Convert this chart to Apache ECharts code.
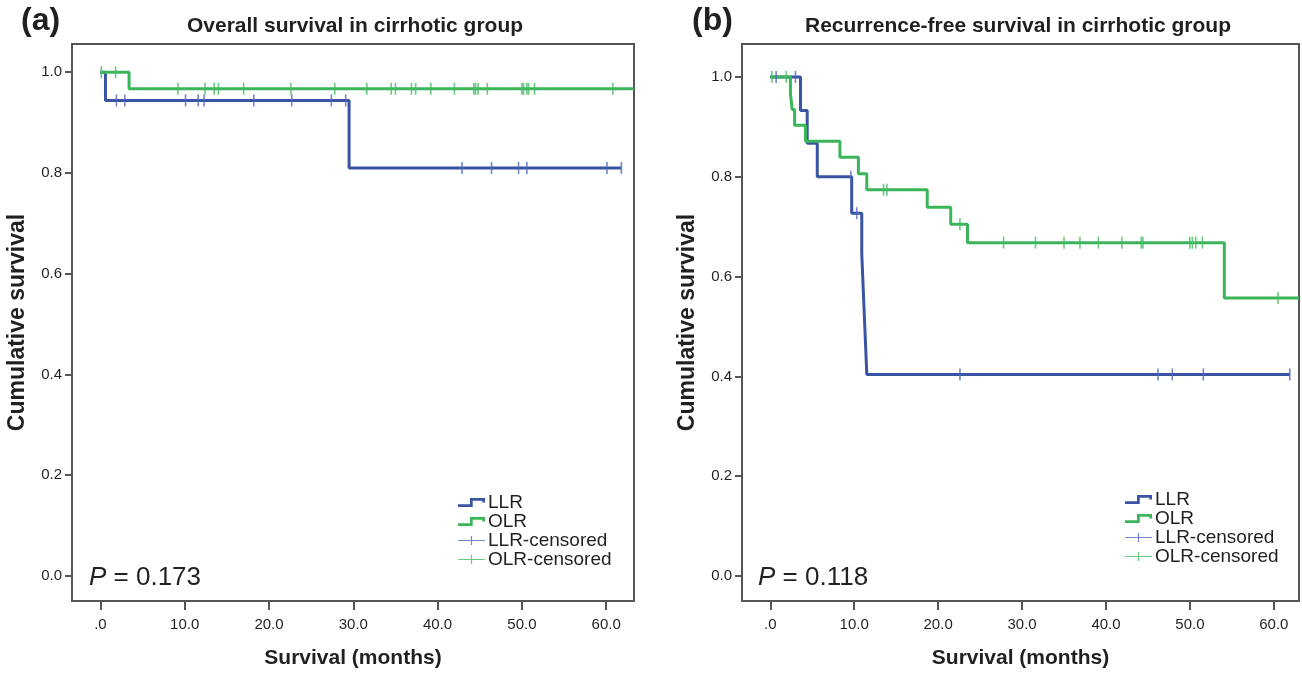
<!DOCTYPE html>
<html>
<head>
<meta charset="utf-8">
<script src="https://cdn.jsdelivr.net/npm/echarts@6/dist/echarts.min.js"></script>
<style>
  html, body { margin: 0; padding: 0; background: #fff; }
  #chart { width: 1302px; height: 674px; }
</style>
</head>
<body>
<div id="chart"></div>
<script>
// (a) overall survival, cirrhotic group
const osLlrTimes = [0, 0.6, 29.5, 61.8]
const osLlrSurv = [1.0, 0.944, 0.810, 0.810]
const osLlrCensor = [1.9, 2.9, 10.1, 11.6, 12.3, 18.2, 22.7, 27.4, 29.1, 42.9, 46.4, 49.6, 50.6, 60.1, 61.8]
const osOlrTimes = [0, 3.4, 63.3]
const osOlrSurv = [1.0, 0.967, 0.967]
const osOlrCensor = [0.1, 1.8, 9.2, 12.4, 13.5, 14.0, 17.0, 22.6, 27.8, 31.6, 34.5, 35.0, 36.9, 37.4, 39.2, 42.0, 44.3, 44.5, 44.8, 45.9, 50.0, 50.2, 50.6, 50.8, 51.5, 60.8]

// (b) recurrence-free survival, cirrhotic group
const rfsLlrTimes = [0, 3.6, 4.4, 5.6, 9.7, 10.9, 11.1, 11.3, 11.5, 61.9]
const rfsLlrSurv = [1.0, 0.933, 0.867, 0.800, 0.727, 0.646, 0.565, 0.485, 0.404, 0.404]
const rfsLlrCensor = [0.7, 3.0, 9.6, 10.3, 22.6, 46.2, 47.9, 51.6, 61.9]
const rfsOlrTimes = [0, 2.4, 2.6, 2.9, 4.2, 8.3, 10.5, 11.5, 18.7, 21.5, 23.5, 54.1, 63.0]
const rfsOlrSurv = [1.0, 0.968, 0.935, 0.903, 0.871, 0.839, 0.806, 0.774, 0.739, 0.705, 0.668, 0.557, 0.557]
const rfsOlrCensor = [0.2, 1.9, 13.5, 13.9, 22.6, 27.8, 31.6, 35.0, 36.9, 39.1, 41.9, 44.2, 44.4, 50.0, 50.3, 50.7, 51.5, 60.5]

const xTicks = [0, 10, 20, 30, 40, 50, 60]
const yTicks = [0, 0.2, 0.4, 0.6, 0.8, 1.0]
const panelTitles = ['Overall survival in cirrhotic group', 'Recurrence-free survival in cirrhotic group']
const pValues = ['0.173', '0.118']
const groupNames = ['LLR', 'OLR', 'LLR-censored', 'OLR-censored']

const FONT = '"Liberation Sans", Arial, sans-serif'
const TXT = '#231f20'
const BLUE = '#3a54a4'
const GREEN = '#3bb55a'
const BLUE_C = '#5068bd'
const GREEN_C = '#45bb63'

const STEP_ICON = 'path://M0,6.3H12V0H27V4.5H24.3V2.7H14.7V9H0Z'
const CROSS_ICON = 'path://M0,4H12.9V0H14.1V4H27V5H14.1V9H12.9V5H0Z'

function toPairs(times, surv) {
  return times.map((t, i) => [t, surv[i]])
}

// survival value at a censoring time
function censorPairs(times, surv, cens) {
  return cens.map(c => {
    let s = surv[0]
    for (let i = 0; i < times.length; i++) {
      if (times[i] <= c) s = surv[i]
    }
    return [c, s]
  })
}

function makeXAxis(idx, min, max) {
  return {
    type: 'value',
    gridIndex: idx,
    min: min,
    max: max,
    name: 'Survival (months)',
    nameLocation: 'middle',
    nameGap: 47,
    nameTextStyle: { fontFamily: FONT, fontWeight: 'bold', fontSize: 21, color: TXT },
    axisLine: { show: false, onZero: false },
    splitLine: { show: false },
    axisTick: { show: true, length: 9, customValues: xTicks, lineStyle: { color: '#555', width: 2 } },
    axisLabel: {
      customValues: xTicks,
      margin: 16,
      fontFamily: FONT,
      fontSize: 15,
      color: TXT,
      formatter: v => (v === 0 ? '.0' : v.toFixed(1))
    }
  }
}

function makeYAxis(idx, min, max) {
  return {
    type: 'value',
    gridIndex: idx,
    min: min,
    max: max,
    name: 'Cumulative survival',
    nameLocation: 'middle',
    nameRotate: 90,
    nameGap: 43,
    nameTextStyle: { fontFamily: FONT, fontWeight: 'bold', fontSize: 23, color: TXT },
    axisLine: { show: false, onZero: false },
    splitLine: { show: false },
    axisTick: { show: true, length: 7, customValues: yTicks, lineStyle: { color: '#555', width: 2 } },
    axisLabel: {
      customValues: yTicks,
      margin: 10,
      fontFamily: FONT,
      fontSize: 15,
      color: TXT,
      formatter: v => v.toFixed(1)
    }
  }
}

function lineSeries(name, idx, data, color) {
  return {
    name: name,
    type: 'line',
    xAxisIndex: idx,
    yAxisIndex: idx,
    step: 'end',
    symbol: 'none',
    data: data,
    itemStyle: { color: color },
    lineStyle: { color: color, width: 3 },
    z: 3,
    silent: true
  }
}

function censorSeries(name, idx, data, color) {
  return {
    name: name,
    type: 'scatter',
    xAxisIndex: idx,
    yAxisIndex: idx,
    symbol: 'rect',
    symbolSize: [1.6, 12],
    data: data,
    itemStyle: { color: color },
    z: 4,
    silent: true
  }
}

function makeLegend(left, top, lineH) {
  return {
    orient: 'vertical',
    left: left,
    top: top,
    itemWidth: 27,
    itemHeight: 9,
    itemGap: 0,
    selectedMode: false,
    textStyle: { fontFamily: FONT, fontSize: 19, color: TXT, lineHeight: lineH, padding: [0, 0, 0, -2] },
    data: [
      { name: groupNames[0], icon: STEP_ICON },
      { name: groupNames[1], icon: STEP_ICON },
      { name: groupNames[2], icon: CROSS_ICON },
      { name: groupNames[3], icon: CROSS_ICON }
    ]
  }
}

function textEl(x, y, text, font, align) {
  return {
    type: 'text',
    x: x,
    y: y,
    style: {
      text: text,
      font: font,
      fill: TXT,
      textAlign: align || 'left',
      textVerticalAlign: 'middle'
    }
  }
}

function pLabel(x, y, val) {
  return {
    type: 'text',
    x: x,
    y: y,
    style: {
      text: '{i|P} = ' + val,
      fontFamily: FONT,
      fontSize: 26,
      fill: TXT,
      textVerticalAlign: 'middle',
      rich: { i: { fontStyle: 'italic', fontFamily: FONT, fontSize: 26, fill: TXT } }
    }
  }
}

const chart = echarts.init(document.getElementById('chart'))

const option = {
  backgroundColor: '#fff',
  animation: false,
  grid: [
    { left: 72, top: 44, width: 562, height: 567, show: true, borderColor: '#555', borderWidth: 2, backgroundColor: 'transparent' },
    { left: 742, top: 44, width: 557, height: 567, show: true, borderColor: '#555', borderWidth: 2, backgroundColor: 'transparent' }
  ],
  xAxis: [makeXAxis(0, -3.37, 63.3), makeXAxis(1, -3.37, 63.0)],
  yAxis: [makeYAxis(0, -0.05, 1.056), makeYAxis(1, -0.05, 1.066)],
  legend: [makeLegend(453, 488, 18.5), makeLegend(1120, 485, 18)],
  series: [
    lineSeries('LLR', 0, toPairs(osLlrTimes, osLlrSurv), BLUE),
    lineSeries('OLR', 0, toPairs(osOlrTimes, osOlrSurv), GREEN),
    censorSeries('LLR-censored', 0, censorPairs(osLlrTimes, osLlrSurv, osLlrCensor), BLUE_C),
    censorSeries('OLR-censored', 0, censorPairs(osOlrTimes, osOlrSurv, osOlrCensor), GREEN_C),
    lineSeries('LLR', 1, toPairs(rfsLlrTimes, rfsLlrSurv), BLUE),
    lineSeries('OLR', 1, toPairs(rfsOlrTimes, rfsOlrSurv), GREEN),
    censorSeries('LLR-censored', 1, censorPairs(rfsLlrTimes, rfsLlrSurv, rfsLlrCensor), BLUE_C),
    censorSeries('OLR-censored', 1, censorPairs(rfsOlrTimes, rfsOlrSurv, rfsOlrCensor), GREEN_C)
  ],
  graphic: [
    textEl(21, 21, '(a)', 'bold 32px ' + FONT),
    textEl(692, 21, '(b)', 'bold 32px ' + FONT),
    textEl(355, 26, panelTitles[0], 'bold 21px ' + FONT, 'center'),
    textEl(1018, 26, panelTitles[1], 'bold 21px ' + FONT, 'center'),
    pLabel(89, 578, pValues[0]),
    pLabel(758, 578, pValues[1])
  ]
}

chart.setOption(option)
</script>
</body>
</html>
